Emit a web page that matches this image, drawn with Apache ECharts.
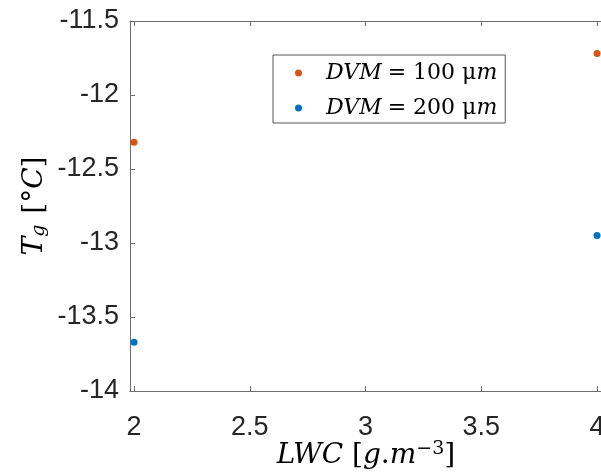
<!DOCTYPE html>
<html>
<head>
<meta charset="utf-8">
<script src="https://cdn.jsdelivr.net/npm/echarts@6/dist/echarts.min.js"></script>
<style>
html,body{margin:0;padding:0;background:#fff;}
#chart{width:601px;height:474px;}
</style>
</head>
<body>
<div id="chart"></div>
<script>
const seriesNames = ['DVM = 100 μm', 'DVM = 200 μm'];
const lwc = [2, 4];
const tg100 = [-12.32, -11.72];
const tg200 = [-13.67, -12.95];
const xTicks = [2, 2.5, 3, 3.5, 4];
const yTicks = [-14, -13.5, -13, -12.5, -12, -11.5];
const colors = ['#D95319', '#0072BD'];

const chart = echarts.init(document.getElementById('chart'), null, {renderer: 'canvas'});
const axisColor = '#6e6e6e';
const labelFont = {fontFamily: 'Liberation Sans, Arial, sans-serif', fontSize: 27, color: '#262626'};
const serif = "'DejaVu Serif', 'Liberation Serif', serif";

const xBase = {
  min: 1.9826, max: 4.0213,
  axisLine: {show: true, lineStyle: {color: axisColor, width: 1}},
  axisTick: {show: true, inside: true, length: 5, customValues: xTicks, lineStyle: {color: axisColor}},
  splitLine: {show: false}
};

chart.setOption({
  animation: false,
  backgroundColor: '#fff',
  grid: {left: 130, top: 21, width: 472, height: 370, containLabel: false, outerBoundsMode: 'none'},
  xAxis: [
    Object.assign({}, xBase, {
      type: 'value', position: 'bottom',
      axisLabel: Object.assign({show: true, margin: 23, customValues: xTicks, formatter: v => String(v)}, labelFont),
      name: '{i|LWC}{n| [}{i|g}{n|.}{i|m}{s|−3}{n|]}',
      nameLocation: 'middle', nameGap: 49, nameMoveOverlap: false,
      nameTextStyle: {
        rich: {
          i: {fontFamily: serif, fontStyle: 'italic', fontSize: 28, color: '#000'},
          n: {fontFamily: serif, fontSize: 28, color: '#000'},
          s: {fontFamily: serif, fontSize: 19, color: '#000', verticalAlign: 'top', padding: [0, 0, 12, 0]}
        }
      }
    }),
    Object.assign({}, xBase, {
      type: 'value', position: 'top',
      axisLabel: {show: false}
    })
  ],
  yAxis: [{
    type: 'value', min: -14, max: -11.5,
    axisLine: {show: true, lineStyle: {color: axisColor, width: 1}},
    axisTick: {show: true, inside: true, length: 5, customValues: yTicks, lineStyle: {color: axisColor}},
    axisLabel: Object.assign({show: true, margin: 11, customValues: yTicks, formatter: v => String(v)}, labelFont),
    splitLine: {show: false},
    name: '{i|T}{sub|g}{n| [°}{i|C}{n|]}',
    nameLocation: 'middle', nameGap: 81, nameRotate: 90, nameMoveOverlap: false,
    nameTextStyle: {
      rich: {
        i: {fontFamily: serif, fontStyle: 'italic', fontSize: 28, color: '#000'},
        n: {fontFamily: serif, fontSize: 28, color: '#000'},
        sub: {fontFamily: serif, fontStyle: 'italic', fontSize: 19, color: '#000', verticalAlign: 'bottom', padding: [10, 2, 0, 0]}
      }
    }
  }],
  legend: {
    show: true,
    orient: 'vertical',
    left: 273, top: 55,
    padding: [6, 8, 3, 22],
    itemGap: 11,
    itemWidth: 7, itemHeight: 7,
    icon: 'circle',
    borderColor: '#555', borderWidth: 1,
    backgroundColor: '#fff',
    data: seriesNames,
    formatter: function (name) {
      const num = name.indexOf('100') >= 0 ? '100' : '200';
      return '{i|DVM}{e|=}{n|' + num + ' μ}{i|m}';
    },
    textStyle: {
      padding: [0, 0, 0, 19],
      lineHeight: 24,
      rich: {
        i: {fontFamily: serif, fontStyle: 'italic', fontSize: 22, color: '#000', lineHeight: 24},
        n: {fontFamily: serif, fontSize: 22, color: '#000', lineHeight: 24},
        e: {fontFamily: serif, fontSize: 22, color: '#000', lineHeight: 24, padding: [0, 7, 0, 6]}
      }
    }
  },
  series: [
    {
      name: seriesNames[0], type: 'scatter', symbol: 'circle', symbolSize: 7,
      itemStyle: {color: colors[0], opacity: 1},
      data: lwc.map((x, i) => [x, tg100[i]])
    },
    {
      name: seriesNames[1], type: 'scatter', symbol: 'circle', symbolSize: 7,
      itemStyle: {color: colors[1], opacity: 1},
      data: lwc.map((x, i) => [x, tg200[i]])
    }
  ]
});
</script>
</body>
</html>
